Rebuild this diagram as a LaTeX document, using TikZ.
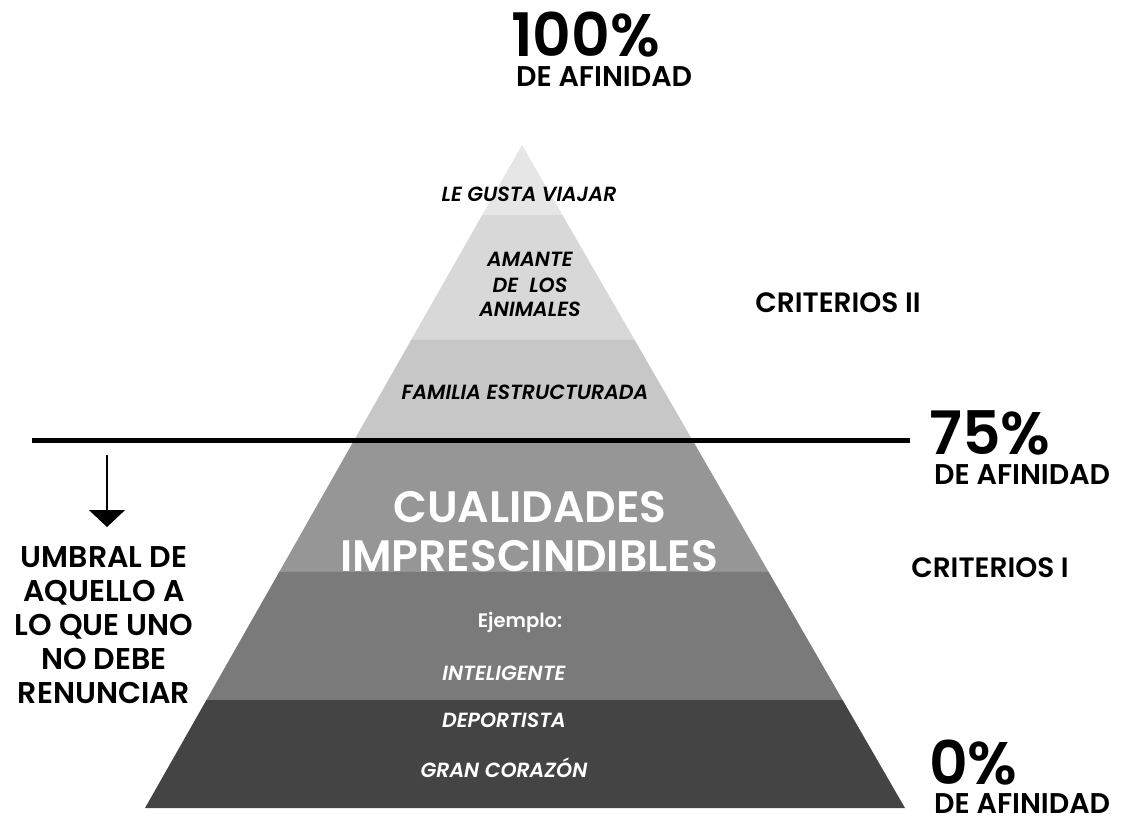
\documentclass[tikz,border=0pt]{standalone}
\usepackage{fontspec}
\setmainfont{Poppins}[BoldFont={Poppins SemiBold},BoldItalicFont={Poppins SemiBold Italic}]
\usetikzlibrary{calc,positioning,arrows.meta}

\definecolor{bandA}{HTML}{E6E6E6}
\definecolor{bandB}{HTML}{D8D8D8}
\definecolor{bandC}{HTML}{C7C7C7}
\definecolor{bandD}{HTML}{969696}
\definecolor{bandE}{HTML}{7A7A7A}
\definecolor{bandF}{HTML}{444444}

\tikzset{
  pct/.style={anchor=base west,inner sep=0pt,font=\fontsize{60}{60}\selectfont\bfseries},
  afin/.style={anchor=base west,inner sep=0pt,font=\fontsize{28.5}{28.5}\selectfont\bfseries},
  crit/.style={anchor=base,inner sep=0pt,font=\fontsize{28}{28}\selectfont\bfseries},
  tag/.style={anchor=base,inner sep=0pt,font=\fontsize{20.5}{20.5}\selectfont\bfseries\itshape},
  tagw/.style={tag,text=white},
}

\begin{document}
\begin{tikzpicture}[x=1pt,y=-1pt]
    \useasboundingbox (0,0) rectangle (1126,820);
    \coordinate (apex) at (522,145);
    \coordinate (bl) at (145,808);
    \coordinate (br) at (905,808);

    % bandas de la piramide
    \foreach \a/\b/\c in {0/0.1056/bandA, 0.1056/0.2941/bandB, 0.2941/0.4449/bandC,
                          0.4449/0.644/bandD, 0.644/0.8371/bandE, 0.8371/1/bandF}
        \fill[\c] ($(apex)!\a!(bl)$) -- ($(apex)!\b!(bl)$) -- ($(apex)!\b!(br)$) -- ($(apex)!\a!(br)$) -- cycle;

    % umbral
    \coordinate (lineL) at (32,440);
    \coordinate (lineR) at (910,440);
    \draw[line width=5pt] (lineL) -- (lineR);

    % porcentajes
    \node[pct] (p100) at (511,56) {100\%};
    \node[afin] (a100) at (516,86) {DE AFINIDAD};
    \node[pct] (p75) at (929,454) {75\%};
    \node[afin] (a75) at (934,484) {DE AFINIDAD};
    \node[pct] (p0) at (929,784) {0\%};
    \node[afin] (a0) at (934,813) {DE AFINIDAD};

    \node[crit] (crit2) at (838,312) {CRITERIOS II};
    \node[crit] (crit1) at (990,577) {CRITERIOS I};

    % criterios II
    \node[tag] (viajar) at (529,201) {LE GUSTA VIAJAR};
    \node[tag] (amante) at (530,266) {AMANTE};
    \node[tag] (delos) at (530,292) {DE\ \ LOS};
    \node[tag] (animales) at (530,316) {ANIMALES};
    \node[tag] (familia) at (525,399) {FAMILIA ESTRUCTURADA};

    % criterios I
    \node[anchor=base,inner sep=0pt,text=white,font=\fontsize{44}{44}\selectfont\bfseries] (cual) at (530,522) {CUALIDADES};
    \node[anchor=base,inner sep=0pt,text=white,font=\fontsize{44}{44}\selectfont\bfseries] (impr) at (529,571) {IMPRESCINDIBLES};
    \node[anchor=base,inner sep=0pt,text=white,font=\fontsize{19.5}{19.5}\selectfont\bfseries] (ejemplo) at (520,627) {Ejemplo:};
    \node[tagw] (intel) at (504,680) {INTELIGENTE};
    \node[tagw] (deport) at (504,727) {DEPORTISTA};
    \node[tagw] (corazon) at (504,777) {GRAN CORAZÓN};

    % flecha y texto de la izquierda
    \node[anchor=north,inner sep=0pt,align=center,font=\fontsize{30}{34}\selectfont\bfseries] (umbral) at (104,546)
        {UMBRAL DE\\AQUELLO A\\LO QUE UNO\\NO DEBE\\RENUNCIAR};
    \coordinate (arrtop) at (107,455);
    \draw[line width=2pt,-{Triangle[width=36pt,length=17pt]},shorten >=19pt] (arrtop) -- (arrtop |- umbral.north);
\end{tikzpicture}
\end{document}
